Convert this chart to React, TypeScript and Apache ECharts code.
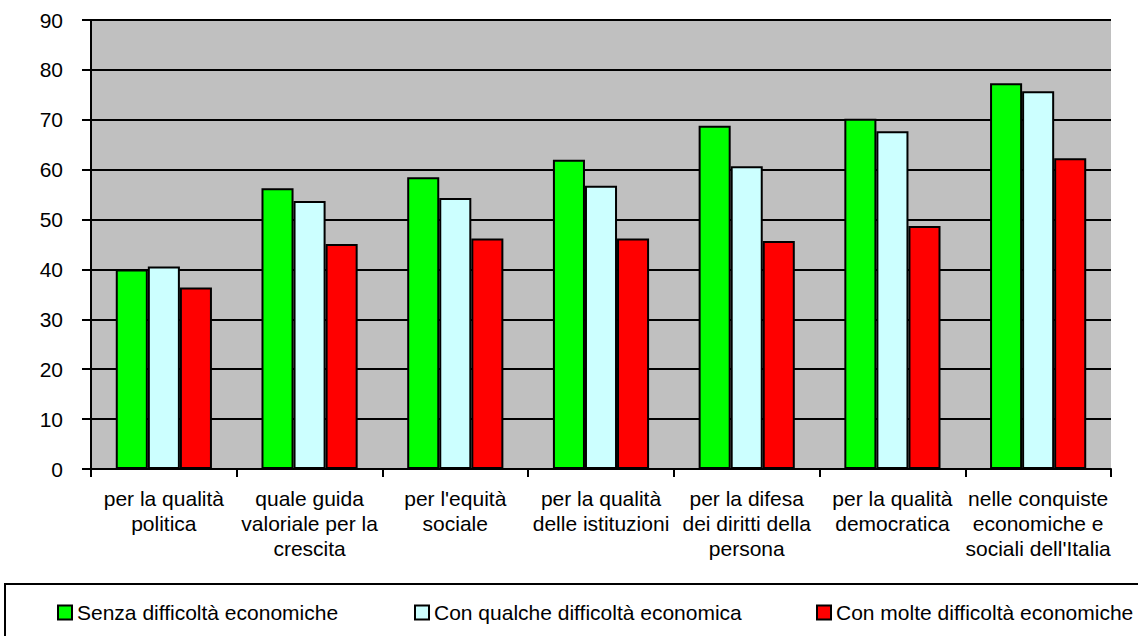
import React, { useEffect, useRef } from "react";
import * as echarts from "echarts";

const categories = [
  "per la qualità\npolitica",
  "quale guida\nvaloriale per la\ncrescita",
  "per l'equità\nsociale",
  "per la qualità\ndelle istituzioni",
  "per la difesa\ndei diritti della\npersona",
  "per la qualità\ndemocratica",
  "nelle conquiste\neconomiche e\nsociali dell'Italia",
];

const seriesNames = [
  "Senza difficoltà economiche",
  "Con qualche difficoltà economica",
  "Con molte difficoltà economiche",
];

const senzaDifficolta = [40.0, 56.3, 58.5, 62.0, 68.8, 70.2, 77.3];
const qualcheDifficolta = [40.6, 53.7, 54.3, 56.8, 60.7, 67.7, 75.7];
const molteDifficolta = [36.4, 45.1, 46.2, 46.2, 45.7, 48.7, 62.3];

const colors = ["#00FF00", "#CCFFFF", "#FF0000"];
const FONT = "'Liberation Sans', Arial, sans-serif";

export default function App() {
  const ref = useRef<HTMLDivElement>(null);
  useEffect(() => {
    if (!ref.current) return;
    const chart = echarts.init(ref.current, undefined, { renderer: "svg" });
    const values = [senzaDifficolta, qualcheDifficolta, molteDifficolta];
    const legendLefts = [57, 414, 816];
    chart.setOption({
      animation: false,
      backgroundColor: "#ffffff",
      textStyle: { fontFamily: FONT },
      grid: {
        left: 91,
        right: 27,
        top: 20,
        bottom: 167,
        show: true,
        backgroundColor: "#C0C0C0",
        borderWidth: 0,
      },
      legend: seriesNames.map((name, i) => ({
        data: [name],
        left: legendLefts[i],
        top: 602,
        icon: "rect",
        itemWidth: 14,
        itemHeight: 14,
        itemGap: 0,
        padding: 0,
        textStyle: { fontSize: 21, color: "#000", fontFamily: FONT },
        itemStyle: { borderColor: "#000", borderWidth: 2 },
        selectedMode: false,
      })),
      xAxis: {
        type: "category",
        data: categories,
        axisLine: { lineStyle: { color: "#000", width: 2 } },
        axisTick: { show: true, inside: false, length: 8, lineStyle: { color: "#000", width: 2 } },
        axisLabel: {
          interval: 0,
          color: "#000",
          fontSize: 21,
          lineHeight: 25,
          margin: 17,
          fontFamily: FONT,
          align: "center",
        },
        splitLine: { show: false },
      },
      yAxis: {
        type: "value",
        min: 0,
        max: 90,
        interval: 10,
        axisLine: { show: true, lineStyle: { color: "#000", width: 2 } },
        axisTick: { show: true, inside: false, length: 9, lineStyle: { color: "#000", width: 2 } },
        axisLabel: { color: "#000", fontSize: 21, margin: 28, fontFamily: FONT },
        splitLine: { show: true, lineStyle: { color: "#000", width: 2 } },
      },
      graphic: [
        {
          type: "rect",
          shape: { x: 5, y: 584, width: 1140, height: 60 },
          style: { fill: "none", stroke: "#000", lineWidth: 2 },
          z: 100,
        },
      ],
      series: seriesNames.map((name, i) => ({
        name,
        type: "bar",
        data: values[i],
        barGap: "0%",
        barCategoryGap: "34%",
        itemStyle: { color: colors[i], borderColor: "#000", borderWidth: 2 },
      })),
    });
    return () => chart.dispose();
  }, []);
  return <div ref={ref} style={{ width: 1138, height: 636, position: "absolute", left: 0, top: 0 }} />;
}
